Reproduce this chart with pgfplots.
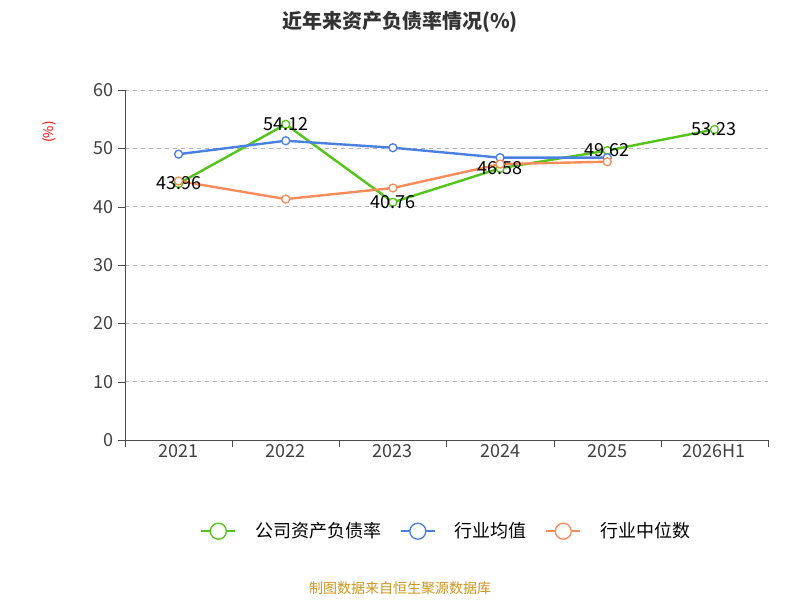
\documentclass[border=0pt]{standalone}
\usepackage{pgfplots}
\pgfplotsset{compat=1.18}
\usepackage{fontspec}
\setmainfont{Noto Sans CJK SC}
\definecolor{cg}{RGB}{82,196,26}
\definecolor{cb}{RGB}{74,128,226}
\definecolor{co}{RGB}{250,140,90}
\definecolor{foot}{RGB}{204,150,30}
\begin{document}
\begin{tikzpicture}
\useasboundingbox (0,0) rectangle (600pt,450pt);
\node[font=\bfseries\fontsize{15}{18}\selectfont, text=black!80] at (300pt,433.5pt) {近年来资产负债率情况(\%)};
\node[font=\fontsize{10.5}{12}\selectfont, text=foot] at (300pt,8.5pt) {制图数据来自恒生聚源数据库};
\begin{axis}[at={(93.75pt,120pt)}, anchor=south west, scale only axis,
  width=482.25pt, height=262.5pt,
  xmin=-0.5, xmax=5.5, ymin=0, ymax=60,
  axis x line*=bottom, axis y line*=left,
  axis line style={black!70},
  xtick={-0.5,0.5,...,5.5}, xticklabels={},
  extra x ticks={0,...,5}, extra x tick labels={2021,2022,2023,2024,2025,2026H1},
  extra x tick style={major tick length=0pt, grid=none},
  /pgf/number format/assume math mode=true,
  ytick={0,10,...,60}, ymajorgrids, grid style={dashed, black!30},
  tick style={black!70}, tick align=outside, major tick length=5pt,
  tick label style={font=\fontsize{13.5}{15}\selectfont, text=black!75},
  ylabel={(\%)}, ylabel style={text=red, font=\fontsize{10}{12}\selectfont, at={(axis description cs:-0.1,0.88)}, anchor=south},
  legend style={at={(0.5,-0.22)}, anchor=north, draw=none, font=\fontsize{13.5}{15}\selectfont, column sep=12pt},
  legend columns=3,
  legend image code/.code={\draw[#1, line width=1.5pt] (0,0)--(0.9cm,0); \draw[#1, line width=1pt, fill=white] (0.45cm,0) circle (6pt);},
  every axis plot/.append style={line width=1.8pt, mark=*, mark size=3pt, mark options={fill=white, line width=1pt}},
]
\addplot[cg, nodes near coords, point meta=explicit symbolic, every node near coord/.style={anchor=center, font=\fontsize{13.5}{15}\selectfont, text=black}] coordinates {(0,43.96)[43.96] (1,54.12)[54.12] (2,40.76)[40.76] (3,46.58)[46.58] (4,49.62)[49.62] (5,53.23)[53.23]};
\addlegendentry{公司资产负债率}
\addplot[cb] coordinates {(0,49.0) (1,51.3) (2,50.1) (3,48.4) (4,48.4)};
\addlegendentry{行业均值}
\addplot[co] coordinates {(0,44.4) (1,41.3) (2,43.2) (3,47.3) (4,47.7)};
\addlegendentry{行业中位数}
\end{axis}
\end{tikzpicture}
\end{document}
